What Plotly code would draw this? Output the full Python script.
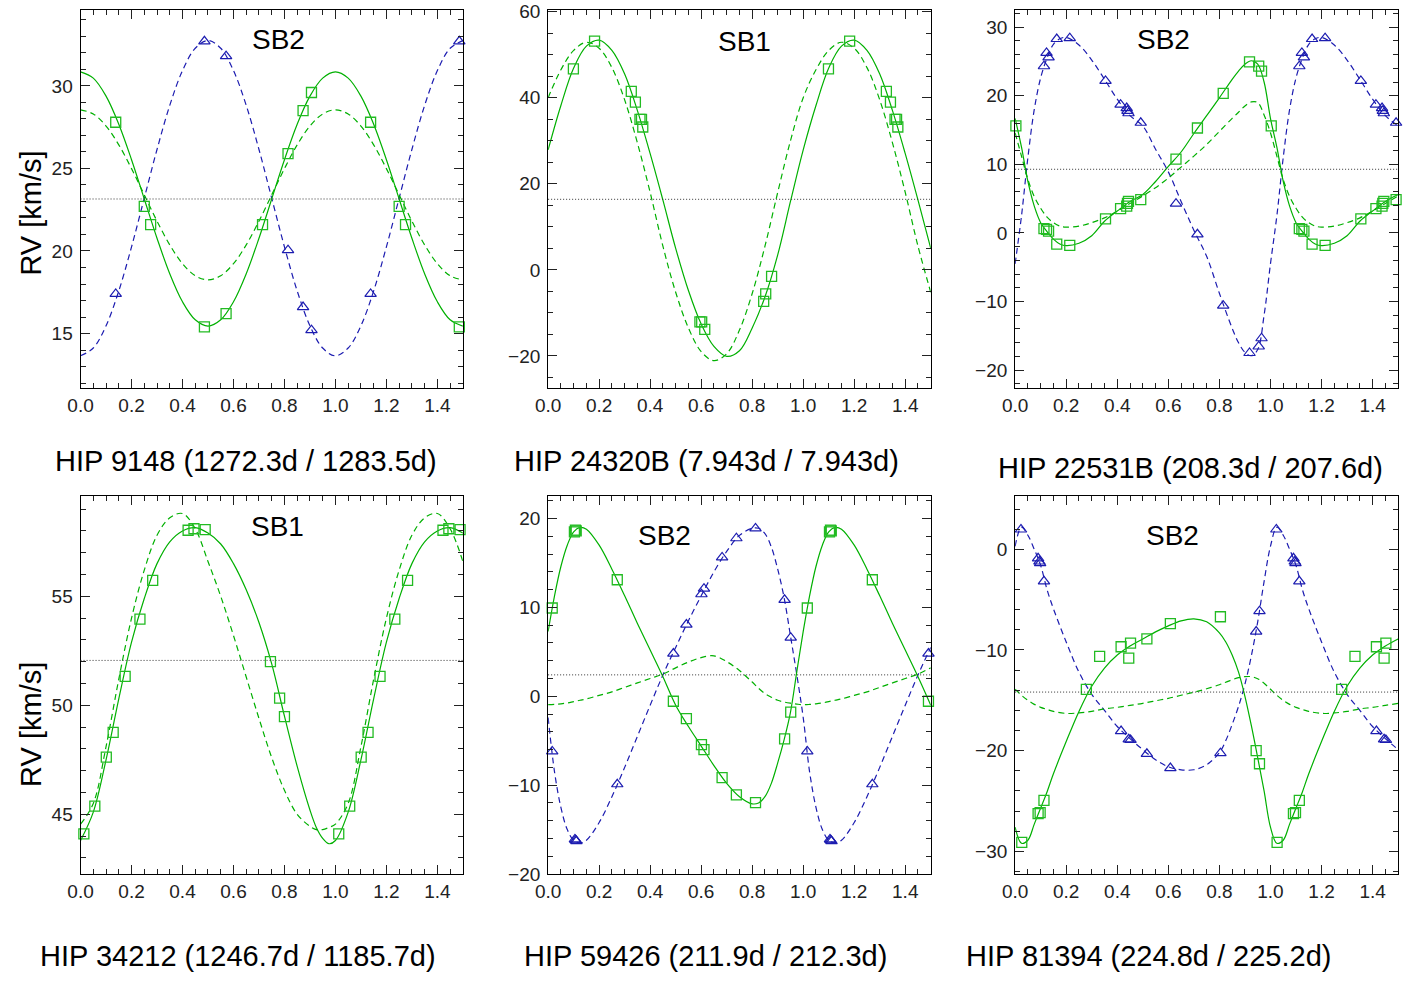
import plotly.graph_objects as go

W, H = 1415, 995

# ---------------- data ----------------
titles = ["HIP 9148 (1272.3d / 1283.5d)", "HIP 24320B (7.943d / 7.943d)",
          "HIP 22531B (208.3d / 207.6d)", "HIP 34212 (1246.7d / 1185.7d)",
          "HIP 59426 (211.9d / 212.3d)", "HIP 81394 (224.8d / 225.2d)"]
sb_labels = ["SB2", "SB1", "SB2", "SB1", "SB2", "SB2"]
x_ticks = [0.0, 0.2, 0.4, 0.6, 0.8, 1.0, 1.2, 1.4]

# Panel 1 : HIP 9148
p1_gamma = 23.15
p1_sq_ph = [0.138, 0.250, 0.275, 0.486, 0.571, 0.714, 0.814, 0.873, 0.906]
p1_sq_rv = [27.8, 22.7, 21.6, 15.4, 16.2, 21.6, 25.9, 28.5, 29.6]
p1_tr_ph = [0.138, 0.486, 0.571, 0.814, 0.873, 0.906]
p1_tr_rv = [17.4, 32.7, 31.8, 20.05, 16.6, 15.2]
p1_grid = [0.0, 0.05, 0.1, 0.15, 0.2, 0.25, 0.3, 0.35, 0.4, 0.45, 0.5,
           0.55, 0.6, 0.65, 0.7, 0.75, 0.8, 0.85, 0.9, 0.95, 1.0]
p1_fit_a = [30.85, 30.47, 29.38, 27.68, 25.53, 23.15, 20.77, 18.62, 16.92, 15.83, 15.45,
            15.83, 16.92, 18.62, 20.77, 23.15, 25.53, 27.68, 29.38, 30.47, 30.85]
p1_fit_b = [28.55, 28.30, 27.57, 26.43, 24.99, 23.40, 21.81, 20.37, 19.23, 18.50, 18.25,
            18.50, 19.23, 20.37, 21.81, 23.40, 24.99, 26.43, 27.57, 28.30, 28.55]
p1_fit_c = [13.65, 14.12, 15.47, 17.58, 20.25, 23.2, 26.15, 28.82, 30.93, 32.28, 32.75,
            32.28, 30.93, 28.82, 26.15, 23.2, 20.25, 17.58, 15.47, 14.12, 13.65]
p1_yticks = [15, 20, 25, 30]

# Panel 2 : HIP 24320B
p2_gamma = 16.4
p2_sq_ph = [0.099, 0.182, 0.326, 0.342, 0.360, 0.366, 0.371, 0.595, 0.602, 0.614, 0.845, 0.853, 0.876]
p2_sq_rv = [46.7, 53.15, 41.5, 39.0, 35.0, 35.0, 33.2, -12.1, -12.1, -13.85, -7.3, -5.6, -1.5]
p2_tr_ph = []
p2_tr_rv = []
p2_grid = p1_grid
p2_fit_a = [27.9, 38.2, 46.9, 52.0, 53.4, 51.0, 45.5, 37.0, 27.0, 16.2, 5.0,
            -4.8, -12.6, -17.8, -20.1, -18.8, -13.5, -6.3, 3.5, 15.9, 27.9]
p2_fit_b = [40.0, 46.5, 51.0, 52.9, 51.5, 47.0, 39.5, 29.5, 18.0, 5.5, -5.2,
            -13.5, -19.0, -21.1, -19.5, -14.0, -5.5, 5.5, 18.0, 30.0, 40.0]
p2_fit_c = []
p2_yticks = [-20, 0, 20, 40, 60]

# Panel 3 : HIP 22531B
p3_gamma = 9.28
p3_sq_ph = [0.003, 0.113, 0.123, 0.131, 0.163, 0.214, 0.354, 0.413, 0.437, 0.440, 0.444,
            0.492, 0.630, 0.714, 0.815, 0.918, 0.954, 0.965]
p3_sq_rv = [15.6, 0.62, 0.52, 0.27, -1.64, -1.8, 2.06, 3.55, 3.9, 4.3, 4.6,
            4.85, 10.77, 15.3, 20.34, 24.95, 24.33, 23.6]
p3_tr_ph = [0.113, 0.123, 0.131, 0.163, 0.214, 0.354, 0.413, 0.437, 0.440, 0.444,
            0.492, 0.630, 0.714, 0.815, 0.918, 0.954, 0.965]
p3_tr_rv = [24.3, 26.25, 25.6, 28.27, 28.4, 22.16, 18.7, 18.2, 17.8, 17.45,
            16.06, 4.27, -0.2, -10.6, -17.5, -16.55, -15.35]
p3_grid = [0.0, 0.025, 0.05, 0.075, 0.1, 0.125, 0.15, 0.175, 0.2, 0.25, 0.3, 0.35, 0.4,
           0.45, 0.5, 0.55, 0.6, 0.65, 0.7, 0.75, 0.8, 0.85, 0.875, 0.9, 0.925, 0.95, 0.975, 1.0]
p3_fit_a = [16.7, 12.5, 7.5, 3.9, 1.5, 0.2, -0.9, -1.6, -1.85, -1.5, -0.4, 1.7, 3.2,
            4.6, 5.6, 7.5, 9.7, 11.8, 14.5, 17.1, 19.7, 22.4, 23.6, 24.6, 25.1, 24.6, 22.0, 16.7]
p3_fit_b = [14.6, 11.2, 7.8, 5.3, 3.6, 2.3, 1.5, 1.0, 0.85, 1.0, 1.5, 2.2, 3.2,
            4.3, 5.4, 6.6, 8.0, 9.6, 11.2, 12.9, 14.8, 16.7, 17.6, 18.5, 19.1, 19.0, 17.2, 14.6]
p3_fit_c = [-4.5, 2.5, 11.0, 18.0, 22.6, 25.5, 27.5, 28.3, 28.5, 27.4, 25.2, 22.4, 19.5,
            17.1, 15.6, 12.2, 8.9, 4.6, 0.4, -3.4, -8.8, -13.9, -16.0, -17.4, -17.9, -17.0, -12.0, -4.5]
p3_yticks = [-20, -10, 0, 10, 20, 30]

# Panel 4 : HIP 34212
p4_gamma = 52.06
p4_sq_ph = [0.013, 0.056, 0.101, 0.128, 0.175, 0.233, 0.283, 0.422, 0.445, 0.489, 0.745, 0.781, 0.800]
p4_sq_rv = [44.1, 45.38, 47.62, 48.76, 51.33, 53.95, 55.73, 58.03, 58.1, 58.06, 52.0, 50.33, 49.48]
p4_tr_ph = []
p4_tr_rv = []
p4_grid = [0.0, 0.05, 0.1, 0.15, 0.2, 0.25, 0.3, 0.35, 0.4, 0.45, 0.5, 0.55, 0.6,
           0.65, 0.7, 0.75, 0.8, 0.85, 0.9, 0.925, 0.95, 0.975, 1.0]
p4_fit_a = [43.8, 45.1, 47.5, 50.3, 52.9, 54.9, 56.5, 57.5, 58.0, 58.15, 57.9, 57.4, 56.5,
            55.3, 53.8, 51.9, 49.5, 47.2, 45.2, 44.4, 43.9, 43.65, 43.8]
p4_fit_b = [44.55, 45.5, 48.1, 51.2, 54.0, 56.2, 57.8, 58.6, 58.8, 58.1, 56.6, 55.0, 53.2,
            51.3, 49.4, 47.6, 46.1, 45.0, 44.45, 44.3, 44.3, 44.4, 44.55]
p4_fit_c = []
p4_yticks = [45, 50, 55]

# Panel 5 : HIP 59426
p5_gamma = 2.41
p5_sq_ph = [0.016, 0.103, 0.107, 0.110, 0.271, 0.491, 0.542, 0.601, 0.611, 0.682, 0.738, 0.813, 0.927, 0.951]
p5_sq_rv = [9.93, 18.5, 18.7, 18.6, 13.11, -0.56, -2.52, -5.44, -6.0, -9.15, -11.1, -11.96, -4.8, -1.78]
p5_tr_ph = [0.016, 0.105, 0.108, 0.111, 0.271, 0.491, 0.542, 0.601, 0.611, 0.682, 0.738, 0.813, 0.927, 0.951]
p5_tr_rv = [-6.2, -16.1, -16.2, -16.3, -9.9, 4.81, 8.07, 11.48, 12.11, 15.63, 17.78, 18.89, 10.85, 6.6]
p5_grid = [0.0, 0.025, 0.05, 0.075, 0.1, 0.125, 0.15, 0.2, 0.25, 0.3, 0.35, 0.4, 0.45, 0.5,
           0.55, 0.6, 0.65, 0.7, 0.75, 0.8, 0.825, 0.85, 0.875, 0.9, 0.925, 0.95, 0.975, 1.0]
p5_fit_a = [7.3, 11.3, 14.6, 17.0, 18.5, 19.0, 18.8, 17.0, 14.3, 11.3, 8.2, 5.2, 2.2, -1.0,
            -3.4, -5.6, -7.8, -9.8, -11.3, -12.1, -12.0, -11.3, -9.8, -7.5, -4.9, -1.8, 2.8, 7.3]
p5_fit_b = [-0.95, -0.92, -0.85, -0.75, -0.6, -0.45, -0.3, 0.1, 0.5, 1.0, 1.5, 2.0, 2.5, 3.2,
            3.85, 4.35, 4.55, 3.9, 2.9, 1.6, 0.9, 0.3, -0.1, -0.45, -0.65, -0.78, -0.88, -0.95]
p5_fit_c = [-2.4, -8.5, -12.5, -15.0, -16.2, -16.5, -16.2, -14.2, -11.3, -8.0, -4.5, -1.0, 2.4, 5.5,
            8.5, 11.3, 14.0, 16.3, 18.1, 18.9, 18.9, 18.3, 16.8, 14.3, 11.1, 6.8, 2.4, -2.4]
p5_yticks = [-20, -10, 0, 10, 20]

# Panel 6 : HIP 81394
p6_gamma = -14.18
p6_sq_ph = [0.026, 0.090, 0.098, 0.113, 0.279, 0.331, 0.415, 0.445, 0.452, 0.516, 0.608, 0.804, 0.944, 0.957]
p6_sq_rv = [-29.11, -26.26, -26.16, -24.94, -13.92, -10.63, -9.68, -10.8, -9.32, -8.89, -7.38, -6.7, -19.99, -21.3]
p6_tr_ph = [0.023, 0.090, 0.095, 0.098, 0.113, 0.415, 0.445, 0.452, 0.516, 0.608, 0.804, 0.944, 0.957]
p6_tr_rv = [1.97, -0.89, -1.21, -1.38, -3.18, -18.05, -18.87, -18.94, -20.31, -21.73, -20.25, -8.17, -6.14]
p6_grid = p5_grid
p6_fit_a = [-27.6, -29.2, -28.9, -27.3, -25.7, -24.1, -22.3, -19.1, -16.1, -13.6, -11.8, -10.5, -9.6, -8.9,
            -8.2, -7.6, -7.1, -6.9, -7.2, -8.3, -9.2, -10.5, -12.2, -14.6, -17.5, -20.7, -24.0, -27.6]
p6_fit_b = [-13.9, -14.5, -15.0, -15.4, -15.7, -15.9, -16.1, -16.3, -16.25, -16.1, -15.85, -15.7, -15.5, -15.3,
            -15.05, -14.8, -14.5, -14.2, -13.85, -13.45, -13.2, -12.95, -12.75, -12.65, -12.65, -12.85, -13.3, -13.9]
p6_fit_c = [0.3, 2.2, 1.4, 0.0, -1.6, -4.0, -5.9, -9.2, -12.2, -14.4, -16.0, -17.6, -18.8, -19.9,
            -20.9, -21.6, -21.9, -21.9, -21.4, -20.2, -19.0, -17.4, -15.6, -13.4, -10.6, -7.2, -3.2, 0.3]
p6_yticks = [-30, -20, -10, 0]

panels = [
    dict(gamma=p1_gamma, sq=(p1_sq_ph, p1_sq_rv), tr=(p1_tr_ph, p1_tr_rv), grid=p1_grid,
         a=p1_fit_a, b=p1_fit_b, c=p1_fit_c, yr=(11.7, 34.6), yt=p1_yticks, mdt=1),
    dict(gamma=p2_gamma, sq=(p2_sq_ph, p2_sq_rv), tr=(p2_tr_ph, p2_tr_rv), grid=p2_grid,
         a=p2_fit_a, b=p2_fit_b, c=p2_fit_c, yr=(-27.45, 60.4), yt=p2_yticks, mdt=5),
    dict(gamma=p3_gamma, sq=(p3_sq_ph, p3_sq_rv), tr=(p3_tr_ph, p3_tr_rv), grid=p3_grid,
         a=p3_fit_a, b=p3_fit_b, c=p3_fit_c, yr=(-22.6, 32.5), yt=p3_yticks, mdt=2),
    dict(gamma=p4_gamma, sq=(p4_sq_ph, p4_sq_rv), tr=(p4_tr_ph, p4_tr_rv), grid=p4_grid,
         a=p4_fit_a, b=p4_fit_b, c=p4_fit_c, yr=(42.24, 59.58), yt=p4_yticks, mdt=1),
    dict(gamma=p5_gamma, sq=(p5_sq_ph, p5_sq_rv), tr=(p5_tr_ph, p5_tr_rv), grid=p5_grid,
         a=p5_fit_a, b=p5_fit_b, c=p5_fit_c, yr=(-20.05, 22.48), yt=p5_yticks, mdt=2),
    dict(gamma=p6_gamma, sq=(p6_sq_ph, p6_sq_rv), tr=(p6_tr_ph, p6_tr_rv), grid=p6_grid,
         a=p6_fit_a, b=p6_fit_b, c=p6_fit_c, yr=(-32.3, 5.25), yt=p6_yticks, mdt=2),
]

# ---------------- layout geometry (target pixels in the photographed picture) ----------------
cols_px = [(80.5, 462.5), (547.7, 930.0), (1014.3, 1397.0)]
rows_px = [(8.5, 390.0), (499.5, 881.0)]
title_pos = [(246, 464), (706, 464), (1190, 471), (238, 963), (705, 963), (1148, 963)]
sb_pos = [(278, 38), (744, 40), (1163, 38), (277, 530), (664, 539), (1172, 539)]
ylab_pos = [(31, 214), (31, 730)]

GREEN = "#00b000"
GREEN_M = "#22bb22"
BLUE = "#1c1cb0"
FONT = "Liberation Sans, Arial, Helvetica, sans-serif"

# observed mapping page -> picture (empirical)
SX, DX = 0.99, 13.0
SY, DY = 0.99, 7.5


def px_x(t):
    return ((t - DX) / SX) / W


def px_y(t):
    return 1 - ((t - DY) / SY) / H


def periodic_curve(ph, vals):
    xs = list(ph) + [p + 1 for p in ph if 0 < p <= 0.5]
    ys = list(vals) + [v for p, v in zip(ph, vals) if 0 < p <= 0.5]
    return xs, ys


def periodic_pts(ph, vals):
    xs = list(ph) + [p + 1 for p in ph if p + 1 <= 1.5]
    ys = list(vals) + [v for p, v in zip(ph, vals) if p + 1 <= 1.5]
    return xs, ys


fig = go.Figure()
layout = dict(width=W, height=H, margin=dict(l=0, r=0, t=0, b=0),
              paper_bgcolor="white", plot_bgcolor="white", showlegend=False,
              annotations=[], shapes=[])

for i, p in enumerate(panels):
    r, c = divmod(i, 3)
    n = i + 1
    xa = "x" if n == 1 else f"x{n}"
    ya = "y" if n == 1 else f"y{n}"
    x0, x1 = cols_px[c]
    y0, y1 = rows_px[r]
    axis_common = dict(showline=True, linecolor="black", linewidth=1, mirror="allticks",
                       ticks="inside", ticklen=9, tickwidth=1, tickcolor="#222",
                       showgrid=False, zeroline=False, ticklabeloverflow="allow",
                       tickfont=dict(family=FONT, size=19, color="#222"))
    layout["xaxis" if n == 1 else f"xaxis{n}"] = dict(
        axis_common, domain=[px_x(x0), px_x(x1)], range=[0, 1.5], anchor=ya,
        tickvals=x_ticks, ticktext=[f"{v:.1f}" for v in x_ticks],
        minor=dict(ticks="inside", ticklen=5, dtick=0.05, tick0=0, tickcolor="#222", showgrid=False))
    layout["yaxis" if n == 1 else f"yaxis{n}"] = dict(
        axis_common, domain=[px_y(y1), px_y(y0)], range=list(p["yr"]), anchor=xa,
        tickvals=p["yt"], ticklabelstandoff=3,
        minor=dict(ticks="inside", ticklen=5, dtick=p["mdt"], tick0=0, tickcolor="#222", showgrid=False))

    # systemic velocity (dotted)
    layout["shapes"].append(dict(type="line", xref=f"{xa} domain", yref=ya, x0=0, x1=1,
                                 y0=p["gamma"], y1=p["gamma"],
                                 line=dict(color="#333", width=1, dash="1px,2px")))
    # model curves
    if p["c"]:
        xs, ys = periodic_curve(p["grid"], p["c"])
        fig.add_trace(go.Scatter(x=xs, y=ys, mode="lines", xaxis=xa, yaxis=ya,
                                 line=dict(color=BLUE, width=1.2, dash="6px,4px", shape="spline")))
    xs, ys = periodic_curve(p["grid"], p["b"])
    fig.add_trace(go.Scatter(x=xs, y=ys, mode="lines", xaxis=xa, yaxis=ya,
                             line=dict(color=GREEN, width=1.2, dash="6px,4px", shape="spline")))
    xs, ys = periodic_curve(p["grid"], p["a"])
    fig.add_trace(go.Scatter(x=xs, y=ys, mode="lines", xaxis=xa, yaxis=ya,
                             line=dict(color=GREEN, width=1.2, shape="spline")))
    # observations
    if p["tr"][0]:
        xs, ys = periodic_pts(*p["tr"])
        fig.add_trace(go.Scatter(x=xs, y=ys, mode="markers", xaxis=xa, yaxis=ya, cliponaxis=False,
                                 marker=dict(symbol="triangle-up-open", size=10, color=BLUE,
                                             line=dict(width=1.2, color=BLUE))))
    xs, ys = periodic_pts(*p["sq"])
    fig.add_trace(go.Scatter(x=xs, y=ys, mode="markers", xaxis=xa, yaxis=ya, cliponaxis=False,
                             marker=dict(symbol="square-open", size=10, color=GREEN_M,
                                         line=dict(width=1.3, color=GREEN_M))))

    tx, ty = title_pos[i]
    layout["annotations"].append(dict(text=titles[i], x=px_x(tx), y=px_y(ty), xref="paper", yref="paper",
                                      showarrow=False, xanchor="center", yanchor="middle",
                                      font=dict(family=FONT, size=29, color="black")))
    sx, sy = sb_pos[i]
    layout["annotations"].append(dict(text=sb_labels[i], x=px_x(sx), y=px_y(sy), xref="paper", yref="paper",
                                      showarrow=False, xanchor="center", yanchor="middle",
                                      font=dict(family=FONT, size=28, color="black")))

for (lx, ly) in ylab_pos:
    layout["annotations"].append(dict(text="RV [km/s]", x=px_x(lx), y=px_y(ly), xref="paper", yref="paper",
                                      showarrow=False, textangle=-90, xanchor="center", yanchor="middle",
                                      font=dict(family=FONT, size=29, color="black")))

fig.update_layout(**layout)
# figure fills the page from its top-left corner; static, so no mode bar appears
fig.write_html("out.html", config={"staticPlot": True},
               post_script="document.documentElement.style.margin='0';"
                           "document.body.style.margin='0';"
                           "document.body.style.overflow='hidden';")
